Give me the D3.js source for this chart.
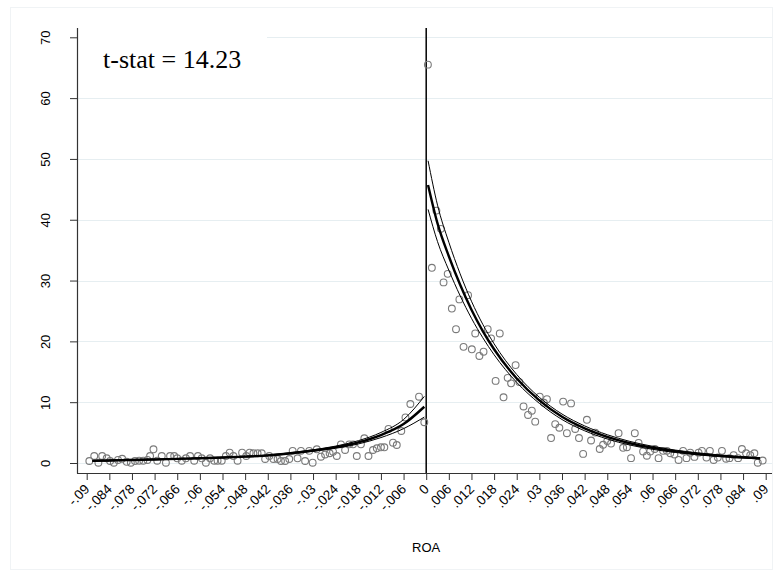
<!DOCTYPE html>
<html><head><meta charset="utf-8">
<script src="https://cdn.jsdelivr.net/npm/d3@7/dist/d3.min.js"></script>
<style>body{margin:0;background:#fff}svg{display:block}</style>
</head><body><svg id="c" width="778" height="576"></svg>
<script>
// ---- data ----
const xTicks = [-0.09,-0.084,-0.078,-0.072,-0.066,-0.06,-0.054,-0.048,-0.042,-0.036,-0.03,-0.024,-0.018,-0.012,-0.006,0,0.006,0.012,0.018,0.024,0.03,0.036,0.042,0.048,0.054,0.06,0.066,0.072,0.078,0.084,0.09];
const xTickLabels = ["-.09","-.084","-.078","-.072","-.066","-.06","-.054","-.048","-.042","-.036","-.03","-.024","-.018","-.012","-.006","0",".006",".012",".018",".024",".03",".036",".042",".048",".054",".06",".066",".072",".078",".084",".09"];
const yTicks = [0,10,20,30,40,50,60,70];

const leftX = [-0.0893,-0.088,-0.0869,-0.0859,-0.0847,-0.0838,-0.0828,-0.0817,-0.0806,-0.0794,-0.0783,-0.0772,-0.0761,-0.075,-0.0739,-0.0732,-0.0723,-0.0713,-0.0701,-0.069,-0.0679,-0.0668,-0.066,-0.0648,-0.0637,-0.0626,-0.0615,-0.0605,-0.0595,-0.0584,-0.0573,-0.0562,-0.0553,-0.0542,-0.0531,-0.0521,-0.0511,-0.05,-0.0488,-0.0477,-0.0468,-0.0458,-0.0447,-0.0436,-0.0427,-0.0416,-0.0405,-0.0394,-0.0385,-0.0374,-0.0363,-0.0354,-0.0341,-0.0332,-0.0321,-0.031,-0.0301,-0.029,-0.0279,-0.0268,-0.0256,-0.0247,-0.0237,-0.0226,-0.0215,-0.0204,-0.0194,-0.0184,-0.0173,-0.0164,-0.0153,-0.0141,-0.0131,-0.012,-0.0111,-0.01,-0.0088,-0.0078,-0.0066,-0.0055,-0.0042,-0.0019,-0.0005];
const leftY = [0.33,1.15,0.05,1.15,0.77,0.33,0.05,0.5,0.7,0.2,0.05,0.33,0.38,0.38,0.5,1.15,2.25,0.38,1.15,0.05,1.15,1.15,0.77,0.38,0.77,1.15,0.38,1.15,0.77,0.05,0.77,0.38,0.38,0.38,1.15,1.7,1.15,0.38,1.7,1.15,1.7,1.6,1.6,1.6,0.66,1.15,0.66,0.66,0.33,0.33,0.66,2.0,0.77,2.0,0.33,2.0,0.05,2.25,1.04,1.4,1.6,1.86,1.15,3.07,2.14,3.07,3.07,1.15,3.07,4.06,1.15,2.14,2.42,2.58,2.58,5.6,3.34,2.96,5.26,7.5,9.7,10.9,6.7];

const rightX = [0.00045,0.0015,0.0027,0.0039,0.0046,0.0057,0.0068,0.0079,0.0088,0.0099,0.0111,0.0121,0.013,0.0141,0.0152,0.0163,0.0172,0.0184,0.0195,0.0205,0.0216,0.0225,0.0237,0.0247,0.0258,0.027,0.028,0.0289,0.0301,0.0312,0.032,0.0331,0.0342,0.0353,0.0363,0.0373,0.0384,0.0395,0.0405,0.0416,0.0426,0.0437,0.0448,0.046,0.0469,0.048,0.049,0.051,0.0522,0.0532,0.0543,0.0553,0.0563,0.0575,0.0585,0.0594,0.0606,0.0616,0.0628,0.0638,0.0647,0.0658,0.0669,0.0681,0.069,0.07,0.0711,0.0722,0.0731,0.0743,0.0752,0.0762,0.0773,0.0784,0.0795,0.0804,0.0815,0.0827,0.0837,0.0848,0.0859,0.087,0.0879,0.0892];
const rightY = [65.5,32.1,41.5,38.5,29.7,31.1,25.4,22.0,26.9,19.1,27.6,18.7,21.3,17.6,18.3,22.0,20.5,13.5,21.3,10.8,14.0,13.1,16.1,13.3,9.3,7.9,8.6,6.8,10.9,9.9,10.5,4.1,6.4,5.8,10.1,4.9,9.8,5.6,4.1,1.5,7.1,3.7,5.0,2.3,3.0,3.6,3.2,4.9,2.5,2.6,0.8,4.9,3.3,1.9,1.2,1.9,2.3,0.8,2.0,2.0,1.6,1.4,0.5,2.0,0.8,1.7,1.0,1.7,2.0,0.9,2.0,0.5,0.9,2.0,0.7,0.8,1.3,0.8,2.3,1.6,1.3,1.6,0.05,0.4];

// fitted curves
const leftFitX = [-0.0885,-0.084,-0.078,-0.072,-0.066,-0.06,-0.054,-0.048,-0.042,-0.036,-0.03,-0.024,-0.018,-0.012,-0.006,-0.0005];
const leftFit  = [0.35,0.42,0.5,0.58,0.68,0.78,0.9,1.05,1.25,1.6,2.05,2.6,3.4,4.6,6.4,9.25];
const leftUpper= [0.43,0.49,0.56,0.63,0.73,0.83,0.95,1.11,1.32,1.69,2.17,2.78,3.67,5.02,7.15,10.95];
const leftLower= [0.27,0.35,0.44,0.53,0.63,0.73,0.85,0.99,1.18,1.51,1.93,2.42,3.13,4.18,5.65,7.55];

const rightFitX = [0.0005,0.003,0.006,0.009,0.012,0.015,0.018,0.024,0.03,0.036,0.042,0.048,0.054,0.06,0.066,0.072,0.078,0.084,0.0885];
const rightFit  = [45.7,39.4,34.0,29.3,25.2,21.7,18.7,13.9,10.3,7.6,5.7,4.3,3.25,2.5,1.93,1.5,1.17,0.92,0.77];
const rightUpper= [49.7,42.4,36.3,31.1,26.6,22.8,19.6,14.55,10.8,8.05,6.1,4.65,3.55,2.75,2.13,1.67,1.31,1.04,0.87];
const rightLower= [41.7,36.4,31.7,27.5,23.8,20.6,17.8,13.25,9.8,7.15,5.3,3.95,2.95,2.25,1.73,1.33,1.03,0.8,0.67];

const tstatLabel = "t-stat = 14.23";
const xTitle = "ROA";

// ---- drawing ----
(function () {
const svg = d3.select("#c");
const pL = 77, pR = 772, axisY = 473, pT = 28;
const x = d3.scaleLinear().domain([-0.09, 0.09]).range([86.7, 765.7]);
const y = d3.scaleLinear().domain([0, 70]).range([463, 37.3]);

// outer region border
svg.append("rect").attr("x",10.5).attr("y",7.5).attr("width",762).attr("height",562)
  .attr("fill","#fff").attr("stroke","#f0f3f5").attr("stroke-width",1);

// grid
svg.append("g").selectAll("line").data(yTicks).join("line")
  .attr("x1", pL).attr("x2", pR)
  .attr("y1", d => Math.round(y(d)) + 0.5).attr("y2", d => Math.round(y(d)) + 0.5)
  .attr("stroke", "#e6eef1").attr("stroke-width", 1);

// white box behind label
svg.append("rect").attr("x", pL + 1).attr("y", 30).attr("width", 189).attr("height", 60).attr("fill", "#fff");

// axes
const font = "'Liberation Sans', Arial, sans-serif";
const gy = svg.append("g").attr("transform", `translate(${pL},0)`)
  .call(d3.axisLeft(y).tickValues(yTicks).tickSize(7).tickSizeOuter(0).tickFormat(d3.format("d")));
gy.select(".domain").remove();
gy.selectAll(".tick line").attr("stroke", "#333");
gy.selectAll(".tick text")
  .attr("font-family", font).attr("font-size", 13).attr("fill", "#000")
  .attr("x", 0).attr("dy", 0).attr("y", 0).attr("text-anchor", "middle")
  .attr("dominant-baseline", "central")
  .attr("transform", "translate(-32,0) rotate(-90)");

const gx = svg.append("g").attr("transform", `translate(0,${axisY})`)
  .call(d3.axisBottom(x).tickValues(xTicks).tickSize(7).tickSizeOuter(0)
    .tickFormat((d, i) => xTickLabels[i]));
gx.select(".domain").remove();
gx.selectAll(".tick line").attr("stroke", "#333");
gx.selectAll(".tick text")
  .attr("font-family", font).attr("font-size", 13.5).attr("fill", "#000")
  .attr("text-anchor", "end").attr("dy", 0).attr("y", 0)
  .attr("transform", "translate(3,17) rotate(-45)");

// axis lines
svg.append("line").attr("x1", pL + 0.5).attr("x2", pL + 0.5).attr("y1", pT).attr("y2", axisY + 0.5)
  .attr("stroke", "#333").attr("stroke-width", 1.2);
svg.append("line").attr("x1", pL).attr("x2", pR).attr("y1", axisY + 0.5).attr("y2", axisY + 0.5)
  .attr("stroke", "#333").attr("stroke-width", 1.2);

// vertical line at 0
svg.append("line").attr("x1", x(0)).attr("x2", x(0)).attr("y1", pT).attr("y2", axisY)
  .attr("stroke", "#000").attr("stroke-width", 1.5);

// scatter
const pts = leftX.map((d, i) => [d, leftY[i]]).concat(rightX.map((d, i) => [d, rightY[i]]));
svg.append("g").selectAll("circle").data(pts).join("circle")
  .attr("cx", d => x(d[0])).attr("cy", d => y(d[1])).attr("r", 3.4)
  .attr("fill", "none").attr("stroke", "#7a7a7a").attr("stroke-width", 1.1);

// fit lines
const line = d3.line().x(d => x(d[0])).y(d => y(d[1])).curve(d3.curveMonotoneX);
function drawFit(xs, ys, w) {
  svg.append("path").datum(xs.map((d, i) => [d, ys[i]]))
    .attr("d", line).attr("fill", "none").attr("stroke", "#000").attr("stroke-width", w);
}
drawFit(leftFitX, leftUpper, 1);
drawFit(leftFitX, leftLower, 1);
drawFit(leftFitX, leftFit, 2.4);
drawFit(rightFitX, rightUpper, 1);
drawFit(rightFitX, rightLower, 1);
drawFit(rightFitX, rightFit, 2.4);

// labels
svg.append("text").attr("x", 103).attr("y", 68)
  .attr("font-family", "'Liberation Serif', 'Times New Roman', serif").attr("font-size", 26)
  .attr("fill", "#000").text(tstatLabel);
svg.append("text").attr("x", x(0)).attr("y", 552).attr("text-anchor", "middle")
  .attr("font-family", font).attr("font-size", 13).attr("fill", "#000").text(xTitle);
})();
</script></body></html>
